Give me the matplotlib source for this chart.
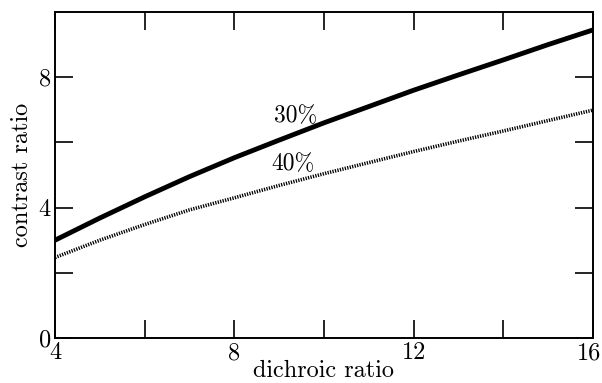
import numpy as np
import matplotlib
matplotlib.use('Agg')
import matplotlib.pyplot as plt
import matplotlib.transforms as mtransforms

# dichroic ratio vs contrast ratio
dichroic = [4, 5, 6, 7, 8, 9, 10, 11, 12, 13, 14, 15, 16]
c30 = [3.0, 3.68, 4.33, 4.95, 5.53, 6.07, 6.6, 7.1, 7.6, 8.07, 8.53, 9.0, 9.45]
c40 = [2.47, 3.0, 3.48, 3.93, 4.3, 4.68, 5.04, 5.38, 5.72, 6.04, 6.35, 6.67, 6.99]

xticks = [4, 6, 8, 10, 12, 14, 16]
xlabels = ['4', '', '8', '', '12', '', '16']
yticks = [0, 2, 4, 6, 8]
ylabels = ['0', '', '4', '', '8']

plt.rcParams['font.family'] = ['cmr10', 'DejaVu Serif']
plt.rcParams['axes.formatter.use_mathtext'] = True

fig = plt.figure(figsize=(6.02, 3.83), dpi=100)
ax = fig.add_axes([0.0914, 0.1175, 0.8936, 0.8512])

ax.plot(dichroic, c30, '-', color='black', linewidth=3.5, solid_capstyle='butt')
ax.plot(dichroic, c40, color='black', linewidth=2.6, linestyle=(0, (0.35, 0.35)))

ax.text(9.36, 6.8, '30%', fontsize=17, ha='center', va='center')
ax.text(9.3, 5.34, '40%', fontsize=17, ha='center', va='center')

ax.set_xlim(4, 16)
ax.set_ylim(0, 10)
ax.set_xticks(xticks)
ax.set_xticklabels(xlabels)
ax.set_yticks(yticks)
ax.set_yticklabels(ylabels)
ax.tick_params(direction='in', length=13, width=1.2, top=True, right=True,
               labelsize=17.5, pad=3)
for s in ax.spines.values():
    s.set_linewidth(1.4)

# nudge the last x label so it stays inside the figure
lab = ax.get_xticklabels()[-1]
lab.set_transform(lab.get_transform() + mtransforms.ScaledTranslation(-3 / 72, 0, fig.dpi_scale_trans))

ax.set_xlabel('dichroic ratio', fontsize=17.5, labelpad=-3)
ax.set_ylabel('contrast ratio', fontsize=17.5, labelpad=4)

plt.savefig('out.png', dpi=100)
